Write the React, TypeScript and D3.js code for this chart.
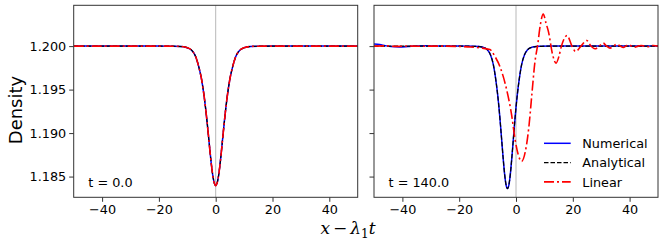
import React, { useEffect, useRef } from 'react';
import * as d3 from 'd3';

const xTicks = [-40, -20, 0, 20, 40];
const yTicks = [1.185, 1.19, 1.195, 1.2];
const seriesNames = ['Numerical', 'Analytical', 'Linear'];
const panelTitles = ['t = 0.0', 't = 140.0'];

// t = 0.0 : all three solutions start from the same soliton
const t0X = [-50, -40, -30, -20, -15, -12, -10, -8, -7, -6, -5, -4, -3.5, -3, -2.5, -2, -1.5, -1, -0.5,
  0, 0.5, 1, 1.5, 2, 2.5, 3, 3.5, 4, 5, 6, 7, 8, 10, 12, 15, 20, 30, 40, 50];
const t0Density = [1.2, 1.2, 1.2, 1.2, 1.19999, 1.19995, 1.19982, 1.19935, 1.19875, 1.19767, 1.19622, 1.19405, 1.1927, 1.19117, 1.18953, 1.18787, 1.18633, 1.18507, 1.18425,
  1.18396, 1.18425, 1.18507, 1.18633, 1.18787, 1.18953, 1.19117, 1.1927, 1.19405, 1.19622, 1.19767, 1.19875, 1.19935, 1.19982, 1.19995, 1.19999, 1.2, 1.2, 1.2, 1.2];

// t = 140.0
const analyticalX = [-50, -40, -30, -20, -15, -13, -11, -10, -9, -8, -7, -6.5, -6, -5.5, -5, -4.5, -4, -3.5, -3,
  -2.5, -2, -1.5, -1, -0.5, 0, 0.5, 1, 2, 3, 4, 5, 7, 9, 12, 20, 30, 40, 50];
const analyticalDensity = [1.2, 1.2, 1.2, 1.2, 1.19998, 1.19995, 1.1998, 1.19955, 1.199, 1.1979, 1.19586, 1.19453, 1.19295, 1.19108, 1.18904, 1.18702, 1.18526, 1.18405, 1.18362,
  1.18405, 1.18526, 1.18702, 1.18904, 1.19108, 1.19295, 1.19453, 1.19586, 1.1979, 1.199, 1.19955, 1.1998, 1.19995, 1.19998, 1.2, 1.2, 1.2, 1.2, 1.2];

const numericalX = [-50, -48, -46, -44, -41, -38, -35, -32, -28, -24, -20, -15, -13, -11, -10, -9, -8, -7, -6.5, -6, -5.5, -5, -4.5, -4, -3.5, -3,
  -2.5, -2, -1.5, -1, -0.5, 0, 0.5, 1, 2, 3, 4, 5, 7, 9, 12, 20, 30, 40, 50];
const numericalDensity = [1.20025, 1.20018, 1.20005, 1.19995, 1.19991, 1.19996, 1.20002, 1.20003, 1.2, 1.2, 1.2, 1.19998, 1.19995, 1.1998, 1.19955, 1.199, 1.1979, 1.19586, 1.19453, 1.19295, 1.19108, 1.18904, 1.18702, 1.18526, 1.18405, 1.18362,
  1.18405, 1.18526, 1.18702, 1.18904, 1.19108, 1.19295, 1.19453, 1.19586, 1.1979, 1.199, 1.19955, 1.1998, 1.19995, 1.19998, 1.2, 1.2, 1.2, 1.2, 1.2];

const linearX = [-50, -46, -42, -38, -34, -30, -25, -20, -16, -12.7, -9.2, -7.4, -5.6, -3.3, -1.5, -0.35, 0.8, 2, 3.3, 4.5, 5.6, 6.6, 7.7, 8.5, 9.6,
  10.6, 11.4, 12.9, 14.1, 15.1, 16, 18, 19.7, 21, 22.9, 24.9, 26.4, 27.8, 29.3, 30.7, 31.9, 33.1, 34.3, 35.5, 36.7, 37.8, 38.7, 39.5,
  40.7, 41.9, 43, 44, 45.2, 46.4, 47.3, 48.3, 50];
const linearDensity = [1.2, 1.20003, 1.19997, 1.20002, 1.19998, 1.2, 1.2, 1.19996, 1.1999, 1.1998, 1.1996, 1.1988, 1.1976, 1.195, 1.192, 1.1893, 1.1875, 1.18675, 1.1879, 1.1906, 1.1945, 1.198, 1.2003, 1.2023, 1.20369,
  1.2026, 1.2017, 1.199, 1.19804, 1.1988, 1.2, 1.20122, 1.2, 1.19938, 1.2, 1.20065, 1.2, 1.19969, 1.2, 1.20035, 1.2, 1.19977, 1.2, 1.20023, 1.2, 1.19984, 1.2, 1.20015,
  1.2, 1.19989, 1.2, 1.20007, 1.2, 1.19992, 1.2, 1.20007, 1.2];

const panels = [
  [
    { name: 'Numerical', xs: t0X, ys: t0Density },
    { name: 'Analytical', xs: t0X, ys: t0Density },
    { name: 'Linear', xs: t0X, ys: t0Density },
  ],
  [
    { name: 'Numerical', xs: numericalX, ys: numericalDensity },
    { name: 'Analytical', xs: analyticalX, ys: analyticalDensity },
    { name: 'Linear', xs: linearX, ys: linearDensity },
  ],
];

const lineStyle: Record<string, { stroke: string; width: number; dash: string | null }> = {
  Numerical: { stroke: '#0000ff', width: 1.5, dash: null },
  Analytical: { stroke: '#000000', width: 1.2, dash: '4.5,2' },
  Linear: { stroke: '#ff0000', width: 1.6, dash: '10,3,2,3' },
};

const W = 664, H = 244;
const top = 5.3, bottom = 197.3;
const panelLeft = [73.7, 374];
const panelWidth = 284;
const font = 'DejaVu Sans';

export default function App() {
  const ref = useRef<SVGSVGElement>(null);

  useEffect(() => {
    const svg = d3.select(ref.current);
    svg.selectAll('*').remove();

    const allY = [...t0Density, ...numericalDensity, ...analyticalDensity, ...linearDensity];
    const [lo, hi] = d3.extent(allY) as [number, number];
    const pad = (hi - lo) * 0.05;
    const y = d3.scaleLinear().domain([lo - pad, hi + pad]).range([bottom, top]);

    panels.forEach((series, i) => {
      const x = d3.scaleLinear().domain([-50, 50]).range([panelLeft[i], panelLeft[i] + panelWidth]);
      const g = svg.append('g');

      g.append('clipPath').attr('id', 'clip' + i)
        .append('rect')
          .attr('x', panelLeft[i]).attr('y', top)
          .attr('width', panelWidth).attr('height', bottom - top);

      g.append('line')
        .attr('x1', x(0)).attr('x2', x(0))
        .attr('y1', top).attr('y2', bottom)
        .attr('stroke', '#b0b0b0').attr('stroke-width', 0.9);

      series.forEach(s => {
        const st = lineStyle[s.name];
        const line = d3.line<number>()
          .x((d, k) => x(s.xs[k]))
          .y(d => y(d))
          .curve(d3.curveMonotoneX);
        g.append('path')
          .attr('clip-path', `url(#clip${i})`)
          .attr('d', line(s.ys))
          .attr('fill', 'none')
          .attr('stroke', st.stroke)
          .attr('stroke-width', st.width)
          .attr('stroke-dasharray', st.dash);
      });

      g.append('rect')
        .attr('x', panelLeft[i]).attr('y', top)
        .attr('width', panelWidth).attr('height', bottom - top)
        .attr('fill', 'none').attr('stroke', '#333').attr('stroke-width', 1);

      const xa = g.append('g')
        .attr('transform', `translate(0,${bottom})`)
        .call(d3.axisBottom(x).tickValues(xTicks).tickSize(4.5).tickPadding(3.5).tickFormat(d3.format('d')));
      const ya = g.append('g')
        .attr('transform', `translate(${panelLeft[i]},0)`)
        .call(d3.axisLeft(y).tickValues(yTicks).tickSize(4.5).tickPadding(3)
          .tickFormat(i === 0 ? d3.format('.3f') : () => ''));
      [xa, ya].forEach(a => {
        a.select('.domain').remove();
        a.attr('font-family', font).attr('font-size', 12.8);
        a.selectAll('line').attr('stroke', '#333');
        a.selectAll('text').attr('fill', '#000');
      });

      g.append('text')
        .attr('x', panelLeft[i] + 14.6).attr('y', 186.7)
        .attr('font-family', font).attr('font-size', 12.8)
        .text(panelTitles[i]);
    });

    // legend, right panel
    const legend = svg.append('g');
    seriesNames.forEach((name, k) => {
      const st = lineStyle[name];
      const cy = 143.3 + k * 19.3;
      legend.append('line')
        .attr('x1', 544).attr('x2', 570.7)
        .attr('y1', cy).attr('y2', cy)
        .attr('stroke', st.stroke).attr('stroke-width', st.width)
        .attr('stroke-dasharray', st.dash);
      legend.append('text')
        .attr('x', 582.3).attr('y', cy + 4.6)
        .attr('font-family', font).attr('font-size', 12.8)
        .text(name);
    });

    svg.append('text')
      .attr('transform', 'translate(21.5,110) rotate(-90)')
      .attr('text-anchor', 'middle')
      .attr('font-family', font).attr('font-size', 18)
      .text('Density');

    // x − λ₁t, laid out like mathtext
    const xl = svg.append('text')
      .attr('x', 348).attr('y', 234)
      .attr('text-anchor', 'middle')
      .attr('font-family', 'DejaVu Serif').attr('font-size', 17);
    xl.append('tspan').attr('font-style', 'italic').text('x');
    xl.append('tspan').attr('dx', 3).text('−');
    xl.append('tspan').attr('dx', 3).attr('font-style', 'italic').text('λ');
    xl.append('tspan').attr('font-size', 12).attr('dy', 3.5).text('1');
    xl.append('tspan').attr('dy', -3.5).attr('font-style', 'italic').text('t');
  }, []);

  return (
    <svg ref={ref} width={W} height={H}
         style={{ position: 'absolute', left: 0, top: 0, background: '#fff' }} />
  );
}
